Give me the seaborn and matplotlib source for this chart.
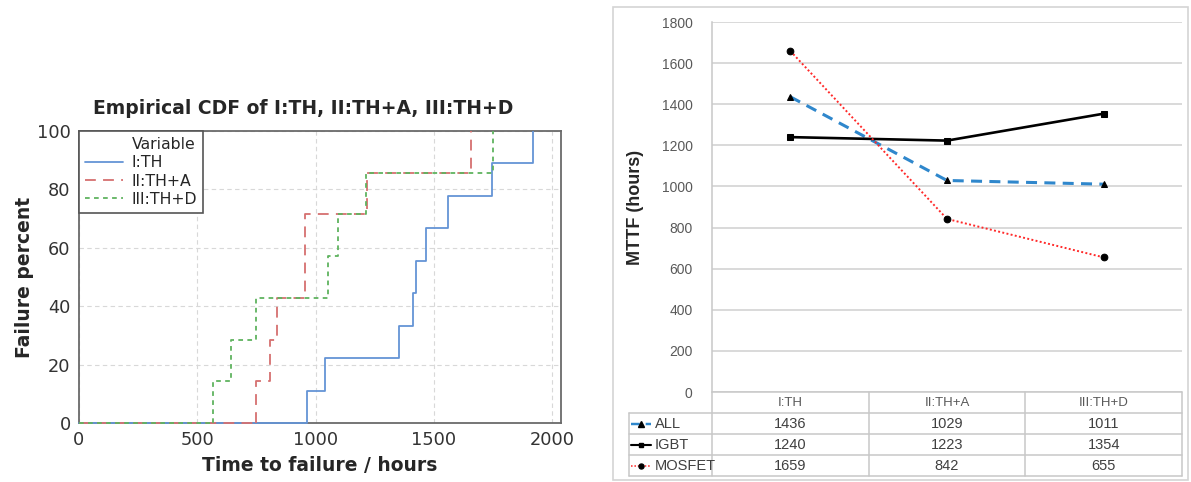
import numpy as np
import pandas as pd
import seaborn as sns
import matplotlib.pyplot as plt
from matplotlib.lines import Line2D
from matplotlib.patches import Rectangle

# Failure times (hours) observed under each stress condition
th_hours = [962, 1040, 1355, 1411, 1423, 1468, 1560, 1746, 1921]
tha_hours = [749, 808, 839, 957, 957, 1217, 1657]
thd_hours = [566, 642, 749, 1051, 1095, 1212, 1749]
ecdf_labels = ["I:TH", "II:TH+A", "III:TH+D"]

# Mean time to failure per device group and condition
conditions = ["I:TH", "II:TH+A", "III:TH+D"]
mttf_all = [1436, 1029, 1011]
mttf_igbt = [1240, 1223, 1354]
mttf_mosfet = [1659, 842, 655]
series_names = ["ALL", "IGBT", "MOSFET"]

sns.set_style("white")
plt.rcParams["font.family"] = ["DejaVu Sans"]

W, H = 1191, 482
fig = plt.figure(figsize=(W / 100, H / 100), dpi=100)


def px_rect(x0, y0, x1, y1):
    return [x0 / W, 1 - y1 / H, (x1 - x0) / W, (y1 - y0) / H]


# ---------------- Empirical CDF panel ----------------
ax1 = fig.add_axes(px_rect(79, 131, 561, 423))
ecdf_styles = [
    ("#6494d6", "-"),
    ("#d6706f", (0, (6, 4))),
    ("#5fb35f", (0, (2.6, 2.4))),
]
for data, lab, (col, ls) in zip([th_hours, tha_hours, thd_hours], ecdf_labels, ecdf_styles):
    sns.ecdfplot(x=data, stat="percent", ax=ax1, color=col, linestyle=ls,
                 linewidth=1.3, label=lab, zorder=3)
    # zero-probability run from the time origin up to the first failure
    ax1.plot([0, min(data)], [0, 0], color=col, linestyle=ls, linewidth=1.3,
             zorder=3, clip_on=False)

ax1.set_xlim(0, 2038)
ax1.set_ylim(0, 100)
ax1.set_xticks([0, 500, 1000, 1500, 2000])
ax1.set_yticks([0, 20, 40, 60, 80, 100])
ax1.grid(True, color="#d8d8d8", linestyle=(0, (4, 3)), linewidth=0.8)
for sp in ax1.spines.values():
    sp.set_color("#6a6a6a")
    sp.set_linewidth(1.3)
ax1.tick_params(axis="both", direction="out", length=4, width=0.9, color="#8a8a8a",
                labelsize=12.8, labelcolor="#333333", pad=2)
ax1.set_xlabel("Time to failure / hours", fontsize=13.5, fontweight="bold", labelpad=5)
ax1.set_ylabel("Failure percent", fontsize=13.5, fontweight="bold")
ax1.yaxis.set_label_coords(-0.094, 0.5)
ax1.set_title("Empirical CDF of I:TH, II:TH+A, III:TH+D", fontsize=13.5,
              fontweight="bold", x=0.466, pad=12)

handles, labels = ax1.get_legend_handles_labels()
title_handle = Line2D([], [], linestyle="none")
leg = ax1.legend([title_handle] + handles[:3], ["Variable"] + labels[:3], loc="upper left",
                 borderaxespad=0, frameon=True, fancybox=False, edgecolor="#555555",
                 framealpha=1, fontsize=11.3, handlelength=2.4, handletextpad=0.55,
                 labelspacing=0.2, borderpad=0.4)
leg.get_frame().set_linewidth(1.2)

# ---------------- MTTF line chart panel ----------------
rfont = ["Liberation Sans", "DejaVu Sans"]
ax2 = fig.add_axes(px_rect(712, 22, 1182, 392))
line_styles = {
    "ALL": dict(color="#2f87cc", linestyle=(0, (3.6, 2.4)), linewidth=2.2, marker="^",
                markersize=5, markerfacecolor="black", markeredgecolor="black"),
    "IGBT": dict(color="black", linestyle="-", linewidth=1.9, marker="s",
                 markersize=4.8, markerfacecolor="black", markeredgecolor="black"),
    "MOSFET": dict(color="#ff2a2a", linestyle=(0, (1, 1.2)), linewidth=1.4, marker="o",
                   markersize=4.8, markerfacecolor="black", markeredgecolor="black"),
}
for name, vals in zip(series_names, [mttf_all, mttf_igbt, mttf_mosfet]):
    sns.lineplot(x=conditions, y=vals, ax=ax2, sort=False, legend=False, **line_styles[name])

ax2.set_xlim(-0.5, 2.5)
ax2.set_ylim(0, 1800)
ax2.set_yticks(np.arange(0, 1801, 200))
ax2.set_xticks([])
ax2.yaxis.grid(True, color="#d0d0d0", linewidth=1.1)
ax2.set_axisbelow(True)
for side in ["top", "right", "bottom"]:
    ax2.spines[side].set_visible(False)
ax2.spines["left"].set_color("#c8c8c8")
ax2.spines["left"].set_linewidth(1.1)
ax2.tick_params(axis="y", length=0, pad=14, labelsize=10, labelcolor="#595959")
for t in ax2.get_yticklabels():
    t.set_family(rfont)
ax2.set_ylabel("MTTF (hours)", fontsize=13, fontweight="bold", family=rfont)
ax2.yaxis.set_label_coords(-0.145, 0.5)

# data table under the chart
tab = fig.add_axes(px_rect(629, 392, 1182, 476))
x_left = -0.5 - 83 / 156.67
tab.set_xlim(x_left, 2.5)
tab.set_ylim(4, 0)
tab.axis("off")
gc = "#c8c8c8"
tab.plot([-0.5, 2.5], [0, 0], color=gc, lw=1.1, clip_on=False)
for yy in [1, 2, 3, 4]:
    tab.plot([x_left, 2.5], [yy, yy], color=gc, lw=1.1, clip_on=False)
for xx in [-0.5, 0.5, 1.5, 2.5]:
    tab.plot([xx, xx], [0, 4], color=gc, lw=1.1, clip_on=False)
tab.plot([x_left, x_left], [1, 4], color=gc, lw=1.1, clip_on=False)

for i, cond in enumerate(conditions):
    tab.text(i, 0.52, cond, ha="center", va="center", fontsize=9.5, color="#595959",
             family=rfont)
for r, (name, vals) in enumerate(zip(series_names, [mttf_all, mttf_igbt, mttf_mosfet])):
    yy = r + 1.5
    for i, v in enumerate(vals):
        tab.text(i, yy + 0.02, str(v), ha="center", va="center", fontsize=10.5,
                 color="#404040", family=rfont)
    st = dict(line_styles[name])
    ms = st.pop("markersize")
    mk = st.pop("marker")
    mfc = st.pop("markerfacecolor")
    mec = st.pop("markeredgecolor")
    st["linewidth"] = st["linewidth"] * 0.8
    k0 = x_left + 2 / 156.67
    k1 = x_left + 22 / 156.67
    tab.plot([k0, k1], [yy, yy], clip_on=False, **st)
    tab.plot([(k0 + k1) / 2], [yy], marker=mk, markersize=ms * 0.75, color=mfc,
             markeredgecolor=mec, clip_on=False)
    tab.text(x_left + 26 / 156.67, yy + 0.02, name, ha="left", va="center",
             fontsize=10.5, color="#404040", family=rfont)

# panel border
fig.add_artist(Rectangle((613 / W, 1 - 480 / H), (1188 - 613) / W, (480 - 7) / H,
                         transform=fig.transFigure, fill=False, edgecolor="#d4d4d4",
                         linewidth=1.2))

fig.savefig("out.png", dpi=100, facecolor="white")
